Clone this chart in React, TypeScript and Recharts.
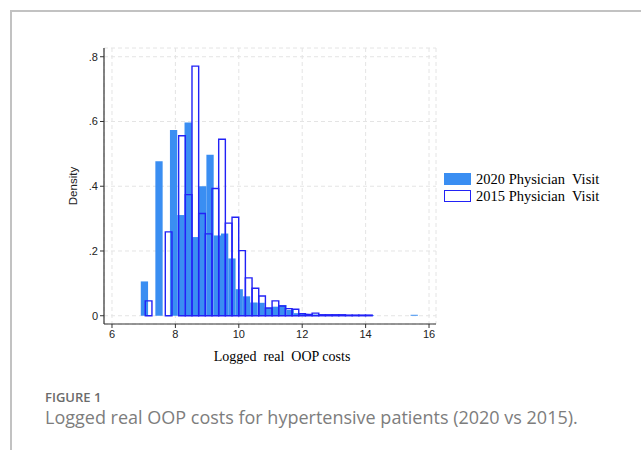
import React from 'react';
import { ComposedChart, XAxis, YAxis, CartesianGrid, ReferenceArea, Legend } from 'recharts';

// ---- data ----
const X_TICKS = [6, 8, 10, 12, 14, 16];
const Y_TICKS = [0, 0.2, 0.4, 0.6, 0.8];
const Y_TICK_LABELS: Record<string, string> = { '0': '0', '0.2': '.2', '0.4': '.4', '0.6': '.6', '0.8': '.8' };

const SERIES_LABELS = ['2020 Physician  Visit', '2015 Physician  Visit'];
const X_TITLE = 'Logged  real  OOP costs';
const Y_TITLE = 'Density';
const FIG_LABEL = 'FIGURE 1';
const FIG_CAPTION = 'Logged real OOP costs for hypertensive patients (2020 vs 2015).';

// histogram bins (start + width of each bin)
const BIN_START_2020 = 6.908;
const BIN_WIDTH_2020 = 0.23;
const DENSITY_2020 = [
  0.106, 0, 0.477, 0, 0.574, 0.311, 0.597, 0.243, 0.4, 0.497,
  0.248, 0.254, 0.177, 0.082, 0.06, 0.041, 0.04, 0.024, 0.028, 0.033,
  0.018, 0.008, 0.006, 0.004, 0.004, 0.003, 0.003, 0.003, 0.002, 0.002,
  0.002, 0.002, 0, 0, 0, 0, 0, 0.003,
];

const BIN_START_2015 = 7.05;
const BIN_WIDTH_2015 = 0.2105;
const DENSITY_2015 = [
  0.046, 0, 0, 0.259, 0, 0.556, 0.374, 0.771, 0.316, 0.253,
  0.393, 0.545, 0.286, 0.304, 0.201, 0.117, 0.085, 0.061, 0.024, 0.046,
  0.03, 0.022, 0.02, 0.006, 0.004, 0.008, 0.003, 0.003, 0.003, 0.003,
  0.002, 0.002, 0.002, 0.002,
];

const COLOR_2020 = '#3a8ef2';
const COLOR_2015 = '#2222f6';

const bins2020 = DENSITY_2020.map((d, i) => ({
  x1: BIN_START_2020 + i * BIN_WIDTH_2020,
  x2: BIN_START_2020 + (i + 1) * BIN_WIDTH_2020,
  y: d,
}));
const bins2015 = DENSITY_2015.map((d, i) => ({
  x1: BIN_START_2015 + i * BIN_WIDTH_2015,
  x2: BIN_START_2015 + (i + 1) * BIN_WIDTH_2015,
  y: d,
}));

const chartData = bins2020.map((b) => ({ x: (b.x1 + b.x2) / 2, y: b.y }));

const serif = '"Liberation Serif", "Times New Roman", serif';
const sans = '"Liberation Sans", Arial, sans-serif';

const LegendBox = () => (
  <div style={{ fontFamily: serif, fontSize: 14.5, color: '#000', lineHeight: '16.6px' }}>
    {SERIES_LABELS.map((label, i) => (
      <div key={label} style={{ display: 'flex', alignItems: 'center', height: 16.6 }}>
        <div
          style={{
            width: i === 0 ? 27 : 25,
            height: i === 0 ? 12 : 10,
            background: i === 0 ? COLOR_2020 : 'transparent',
            border: i === 0 ? 'none' : `1.4px solid ${COLOR_2015}`,
            marginRight: 5,
            boxSizing: 'content-box',
          }}
        />
        <span style={{ whiteSpace: 'pre' }}>{label}</span>
      </div>
    ))}
  </div>
);

export default function App() {
  return (
    <div
      style={{
        position: 'absolute',
        left: 0,
        top: 0,
        width: 641,
        height: 450,
        overflow: 'hidden',
        background: '#fff',
      }}
    >
      <div
        style={{
          position: 'absolute',
          left: 10,
          top: 10,
          width: 660,
          height: 460,
          borderLeft: '2px solid #c2c2c2',
          borderTop: '2px solid #c2c2c2',
        }}
      />
      <div style={{ position: 'absolute', left: 0, top: 0 }}>
        <ComposedChart
          width={641}
          height={450}
          data={chartData}
          margin={{ top: 48, right: 205, bottom: 76, left: 0 }}
        >
          <CartesianGrid strokeDasharray="4 3" stroke="#e4e4e4" />
          <XAxis
            dataKey="x"
            type="number"
            domain={[5.748, 16.22]}
            ticks={X_TICKS}
            interval={0}
            allowDataOverflow
            height={50}
            tickSize={4}
            tickMargin={2}
            axisLine={{ stroke: '#333', strokeWidth: 1.2 }}
            tickLine={{ stroke: '#333' }}
            tick={{ fontSize: 11, fill: '#222', fontFamily: sans }}
            label={(props: any) => {
              const vb = props.viewBox || {};
              const cx = vb.x + vb.width / 2 + 12;
              return (
                <text
                  x={cx}
                  y={361}
                  textAnchor="middle"
                  style={{ fontFamily: serif, fontSize: 14, fill: '#000', whiteSpace: 'pre' }}
                  xmlSpace="preserve"
                >
                  {X_TITLE}
                </text>
              );
            }}
          />
          <YAxis
            type="number"
            domain={[-0.0255, 0.827]}
            ticks={Y_TICKS}
            interval={0}
            allowDataOverflow
            width={104}
            tickSize={4}
            tickMargin={2}
            axisLine={{ stroke: '#333', strokeWidth: 1.2 }}
            tickLine={{ stroke: '#333' }}
            tick={{ fontSize: 11, fill: '#222', fontFamily: sans }}
            tickFormatter={(v: number) => Y_TICK_LABELS[String(v)] ?? String(v)}
            label={(props: any) => {
              const vb = props.viewBox || {};
              const cy = vb.y + vb.height / 2;
              return (
                <text
                  x={72.5}
                  y={cy}
                  transform={`rotate(-90 72.5 ${cy})`}
                  textAnchor="middle"
                  dominantBaseline="central"
                  style={{ fontFamily: sans, fontSize: 11.5, fill: '#222' }}
                >
                  {Y_TITLE}
                </text>
              );
            }}
          />
          {bins2020
            .filter((b) => b.y > 0)
            .map((b, i) => (
              <ReferenceArea
                key={`a${i}`}
                x1={b.x1}
                x2={b.x2}
                y1={0}
                y2={b.y}
                fill={COLOR_2020}
                fillOpacity={1}
                stroke="none"
                ifOverflow="visible"
              />
            ))}
          {bins2015
            .filter((b) => b.y > 0)
            .map((b, i) => (
              <ReferenceArea
                key={`b${i}`}
                x1={b.x1}
                x2={b.x2}
                y1={0}
                y2={b.y}
                fill="none"
                fillOpacity={0}
                stroke={COLOR_2015}
                strokeWidth={1.4}
                ifOverflow="visible"
              />
            ))}
          <Legend
            layout="vertical"
            align="center"
            verticalAlign="middle"
            content={() => <LegendBox />}
            wrapperStyle={{ position: 'absolute', left: 444, top: 171, width: 190 }}
          />
        </ComposedChart>
      </div>
      <div
        style={{
          position: 'absolute',
          left: 45,
          top: 391,
          fontFamily: '"Open Sans", sans-serif',
          fontSize: 13,
          fontWeight: 600,
          color: '#6b6b6b',
          lineHeight: '13px',
        }}
      >
        {FIG_LABEL}
      </div>
      <div
        style={{
          position: 'absolute',
          left: 45,
          top: 408,
          fontFamily: '"Open Sans", sans-serif',
          fontSize: 18,
          color: '#7d7d7d',
          lineHeight: '19px',
          whiteSpace: 'nowrap',
        }}
      >
        {FIG_CAPTION}
      </div>
    </div>
  );
}
